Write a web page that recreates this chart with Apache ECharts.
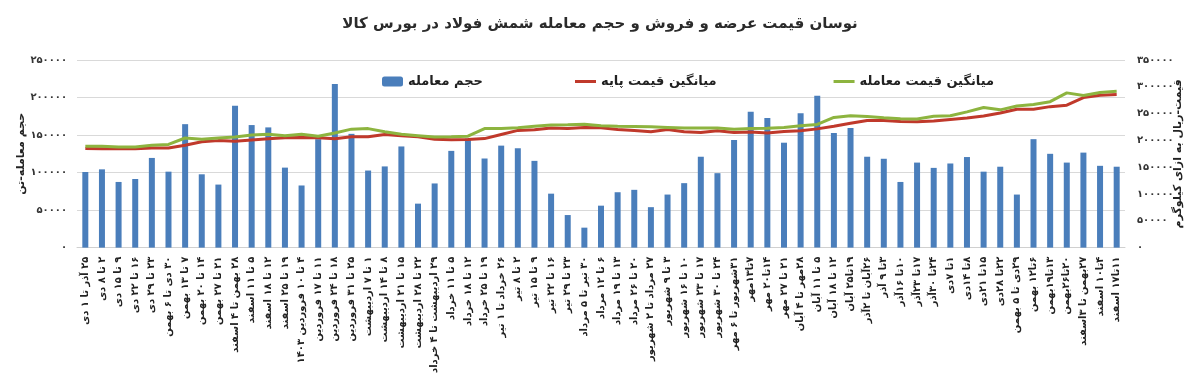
<!DOCTYPE html>
<html>
<head>
<meta charset="utf-8">
<script src="https://cdn.jsdelivr.net/npm/echarts@6/dist/echarts.min.js"></script>
<style>
  html, body { margin: 0; padding: 0; background: #fff; }
  #chart { width: 1200px; height: 376px; }
</style>
</head>
<body>
<div id="chart"></div>
<script>
// weekly periods (Persian calendar)
const weeks = [
  '۲۵ آذر تا ۱ دی', '۲ تا ۸ دی', '۹ تا ۱۵ دی', '۱۶ تا ۲۲ دی', '۲۳ تا ۲۹ دی',
  '۳۰ دی تا ۶ بهمن', '۷ تا ۱۳ بهمن', '۱۴ تا ۲۰ بهمن', '۲۱ تا ۲۷ بهمن', '۲۸ بهمن تا ۴ اسفند',
  '۵ تا ۱۱ اسفند', '۱۲ تا ۱۸ اسفند', '۱۹ تا ۲۵ اسفند', '۴ تا ۱۰ فروردین ۱۴۰۳', '۱۱ تا ۱۷ فروردین',
  '۱۸ تا ۲۴ فروردین', '۲۵ تا ۳۱ فروردین', '۱ تا ۷ اردیبهشت', '۸ تا ۱۴ اردیبهشت', '۱۵ تا ۲۱ اردیبهشت',
  '۲۲ تا ۲۸ اردیبهشت', '۲۹ اردیبهشت تا ۴ خرداد', '۵ تا ۱۱ خرداد', '۱۲ تا ۱۸ خرداد', '۱۹ تا ۲۵ خرداد',
  '۲۶ خرداد تا ۱ تیر', '۲ تا ۸ تیر', '۹ تا ۱۵ تیر', '۱۶ تا ۲۲ تیر', '۲۳ تا ۲۹ تیر',
  '۳۰ تیر تا ۵ مرداد', '۶ تا ۱۲ مرداد', '۱۳ تا ۱۹ مرداد', '۲۰ تا ۲۶ مرداد', '۲۷ مرداد تا ۲ شهریور',
  '۳ تا ۹ شهریور', '۱۰ تا ۱۶ شهریور', '۱۷ تا ۲۳ شهریور', '۲۴ تا ۳۰ شهریور', '۳۱شهریور تا ۶ مهر',
  '۷تا۱۳مهر', '۱۴تا۲۰ مهر', '۲۱ تا ۲۷ مهر', '۲۸مهر تا ۴ آبان', '۵ تا ۱۱ آبان',
  '۱۲ تا ۱۸ آبان', '۱۹تا۲۵ آبان', '۲۶آبان تا ۲آذر', '۳تا ۹ آذر', '۱۰تا ۱۶آذر',
  '۱۷تا ۲۳آذر', '۲۴تا ۳۰آذر', '۱تا ۷دی', '۸تا ۱۴دی', '۱۵تا ۲۱دی',
  '۲۲تا ۲۸دی', '۲۹دی تا ۵ بهمن', '۶تا۱۲ بهمن', '۱۳تا۱۹بهمن', '۲۰تا۲۶بهمن',
  '۲۷بهمن تا ۳اسفند', '۴تا۱۰ اسفند', '۱۱تا۱۷ اسفند'
];

// trade volume (tons) - left axis
const volume = [
  100800, 104300, 87500, 91400, 119500, 101200, 164500, 97700, 84000, 189000,
  163300, 160200, 106600, 82800, 144500, 218000, 151600, 102700, 108200, 134800,
  58600, 85500, 128900, 145300, 118750, 135900, 132400, 115600, 71900, 43400,
  26600, 55900, 73800, 77000, 53900, 70700, 85900, 121100, 99200, 143400,
  180900, 172700, 139800, 178900, 202300, 152700, 159400, 121100, 118400, 87500,
  113300, 106250, 112100, 120700, 101200, 107800, 70700, 144500, 125000, 113300,
  126600, 109000, 107800
];

// average base price (rial/kg) - right axis
const basePrice = [
  184800, 184300, 184300, 184300, 186000, 186000, 190900, 197400, 199600, 198500,
  200700, 202900, 205100, 205600, 205100, 202900, 206700, 206700, 211100, 208900,
  206700, 202300, 201200, 201800, 203400, 211100, 218700, 219800, 223100, 222000,
  224200, 223700, 220400, 218700, 216000, 220400, 216000, 214900, 218200, 214900,
  215500, 213800, 216600, 218200, 221500, 226400, 231900, 237300, 237300, 235200,
  234600, 236200, 239000, 241700, 245500, 251000, 258100, 258100, 263000, 265800,
  280000, 284400, 285500
];

// average trade price (rial/kg) - right axis
const tradePrice = [
  189200, 189200, 187600, 187600, 190900, 192500, 204500, 202300, 204500, 206200,
  210000, 211600, 208900, 211600, 207800, 213800, 221000, 222000, 216000, 211600,
  208900, 206200, 206700, 207800, 222000, 222000, 223700, 226400, 228600, 229100,
  230200, 227500, 226400, 225900, 225300, 224200, 223100, 223100, 223100, 221000,
  222000, 222600, 224200, 227500, 229700, 242800, 246100, 244400, 242300, 240600,
  240100, 245000, 246100, 253200, 261400, 257000, 264100, 266900, 272300, 288700,
  283800, 289300, 291500
];

const faDigits = '۰۱۲۳۴۵۶۷۸۹';
const toFa = v => String(v).replace(/\d/g, d => faDigits[d]);
const font = 'DejaVu Sans';
const legendText = { fontSize: 13, fontWeight: 'bold', color: '#222', fontFamily: font };
const nameText = { fontSize: 11, fontWeight: 'bold', color: '#222', fontFamily: font };

const chart = echarts.init(document.getElementById('chart'));
chart.setOption({
  animation: false,
  textStyle: { fontFamily: font },
  title: {
    text: 'نوسان قیمت عرضه و فروش و حجم معامله شمش فولاد در بورس کالا',
    left: 'center',
    top: 12,
    textStyle: { fontSize: 15, fontWeight: 'bold', color: '#2b2b2b', fontFamily: font }
  },
  // bar legend and line legends kept apart so the lines get a thin icon
  legend: [
    {
      left: 377,
      top: 70,
      itemWidth: 21,
      itemHeight: 10,
      textStyle: legendText,
      data: ['حجم معامله']
    },
    {
      left: 570,
      top: 70,
      itemGap: 117,
      itemWidth: 21,
      itemHeight: 3,
      icon: 'rect',
      textStyle: legendText,
      data: ['میانگین قیمت پایه', 'میانگین قیمت معامله']
    }
  ],
  grid: { left: 77, right: 75, top: 60, bottom: 103 },
  xAxis: {
    type: 'category',
    data: weeks,
    axisLine: { lineStyle: { color: '#d0d0d0' } },
    axisTick: { show: false },
    axisLabel: {
      interval: 0,
      rotate: 90,
      margin: 9,
      fontSize: 10,
      fontWeight: 'bold',
      color: '#222',
      fontFamily: font,
      formatter: v => '\u200F' + v
    }
  },
  yAxis: [
    {
      type: 'value',
      min: 0,
      max: 250000,
      interval: 50000,
      name: 'حجم معامله-تن',
      nameLocation: 'middle',
      nameRotate: 90,
      nameGap: 50,
      nameMoveOverlap: false,
      nameTextStyle: nameText,
      axisLabel: { fontSize: 10, fontWeight: 'bold', color: '#333', margin: 10, formatter: toFa },
      splitLine: { lineStyle: { color: '#d9d9d9' } }
    },
    {
      type: 'value',
      min: 0,
      max: 350000,
      interval: 50000,
      name: 'قیمت-ریال به ازای کیلوگرم',
      nameLocation: 'middle',
      nameRotate: 90,
      nameGap: 48,
      nameMoveOverlap: false,
      nameTextStyle: nameText,
      axisLabel: { fontSize: 10, fontWeight: 'bold', color: '#333', margin: 12, formatter: toFa },
      splitLine: { show: false }
    }
  ],
  series: [
    {
      name: 'حجم معامله',
      type: 'bar',
      yAxisIndex: 0,
      barWidth: 6,
      itemStyle: { color: '#4a7ebb' },
      data: volume
    },
    {
      name: 'میانگین قیمت پایه',
      type: 'line',
      yAxisIndex: 1,
      symbol: 'none',
      lineStyle: { color: '#c0392b', width: 3 },
      itemStyle: { color: '#c0392b' },
      data: basePrice
    },
    {
      name: 'میانگین قیمت معامله',
      type: 'line',
      yAxisIndex: 1,
      symbol: 'none',
      lineStyle: { color: '#8db43f', width: 3 },
      itemStyle: { color: '#8db43f' },
      data: tradePrice
    }
  ]
});
</script>
</body>
</html>
